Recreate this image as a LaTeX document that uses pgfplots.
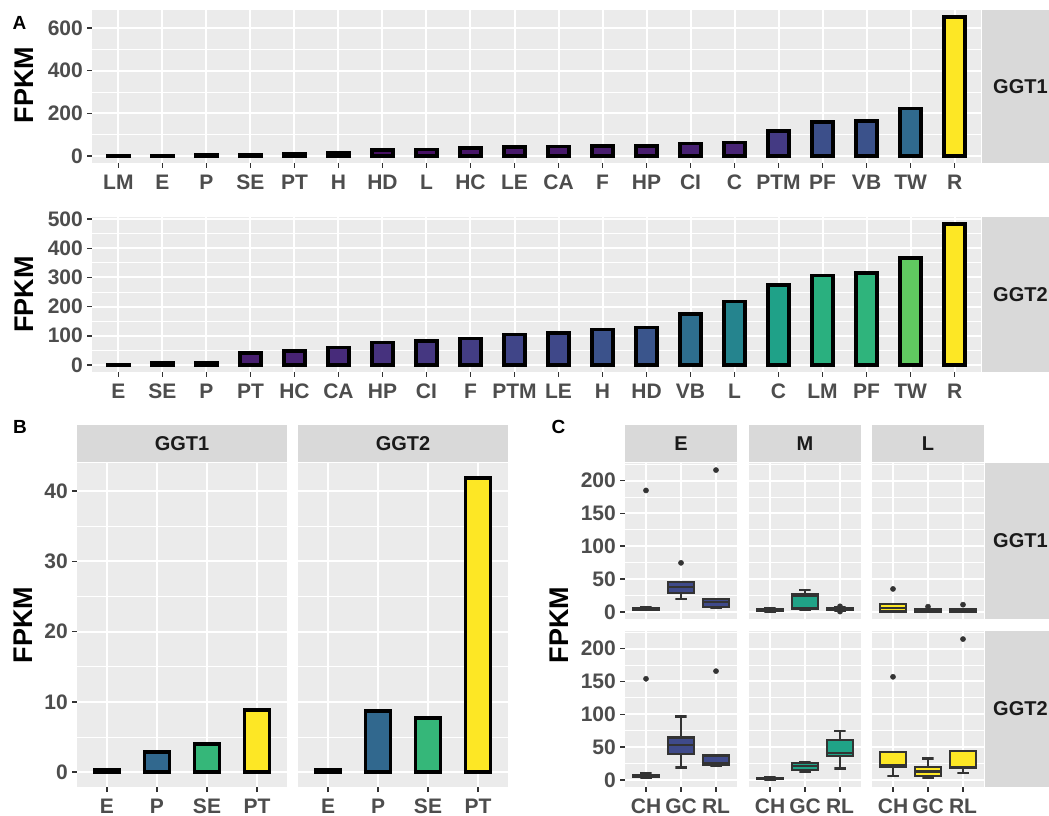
\documentclass[border=0pt]{standalone}
\usepackage{fontspec}
\setmainfont{Liberation Sans}
\usepackage{pgfplots}
\pgfplotsset{compat=1.18}
\definecolor{ggpanel}{HTML}{EBEBEB}
\definecolor{ggstrip}{HTML}{D9D9D9}
\definecolor{gg20}{HTML}{333333}
\definecolor{gg30}{HTML}{4D4D4D}
\definecolor{gg10}{HTML}{1A1A1A}
% panel A, GGT1 bar colours (viridis by value)
\definecolor{a00}{HTML}{440154}\definecolor{a01}{HTML}{440154}
\definecolor{a02}{HTML}{440256}\definecolor{a03}{HTML}{440256}
\definecolor{a04}{HTML}{450559}\definecolor{a05}{HTML}{46085C}
\definecolor{a06}{HTML}{471063}\definecolor{a07}{HTML}{471164}
\definecolor{a08}{HTML}{481668}\definecolor{a09}{HTML}{48196B}
\definecolor{a10}{HTML}{48196B}\definecolor{a11}{HTML}{481C6E}
\definecolor{a12}{HTML}{481C6E}\definecolor{a13}{HTML}{482173}
\definecolor{a14}{HTML}{482475}\definecolor{a15}{HTML}{443A83}
\definecolor{a16}{HTML}{3C4F8A}\definecolor{a17}{HTML}{3B528B}
\definecolor{a18}{HTML}{306A8E}\definecolor{a19}{HTML}{FDE725}
% panel A, GGT2
\definecolor{b00}{HTML}{440154}\definecolor{b01}{HTML}{450559}
\definecolor{b02}{HTML}{46075A}\definecolor{b03}{HTML}{481F70}
\definecolor{b04}{HTML}{482374}\definecolor{b05}{HTML}{472B7A}
\definecolor{b06}{HTML}{46327E}\definecolor{b07}{HTML}{453781}
\definecolor{b08}{HTML}{433D84}\definecolor{b09}{HTML}{404588}
\definecolor{b10}{HTML}{3F4889}\definecolor{b11}{HTML}{3B528B}
\definecolor{b12}{HTML}{3A558C}\definecolor{b13}{HTML}{2E6E8E}
\definecolor{b14}{HTML}{25848E}\definecolor{b15}{HTML}{1FA188}
\definecolor{b16}{HTML}{2AB07F}\definecolor{b17}{HTML}{2FB47C}
\definecolor{b18}{HTML}{60CA60}\definecolor{b19}{HTML}{FDE725}
% panel B
\definecolor{v1}{HTML}{440154}\definecolor{v2}{HTML}{31688E}
\definecolor{v3}{HTML}{35B779}\definecolor{v4}{HTML}{FDE725}
% panel C
\definecolor{boxE}{HTML}{3F4A8A}\definecolor{boxM}{HTML}{20A387}
\definecolor{boxL}{HTML}{FDE725}

\newcommand\tlfont{\fontsize{21}{21}\selectfont\bfseries}
\newcommand\stfont{\fontsize{20}{20}\selectfont\bfseries}
\newcommand\ylfont{\fontsize{27}{27}\selectfont\bfseries}
\newcommand\pfont{\fontsize{19}{19}\selectfont\bfseries}

\pgfplotsset{
  gg/.style={
    scale only axis,
    axis background/.style={fill=ggpanel},
    axis x line*=bottom, axis y line*=left,
    axis line style={draw=none},
    tick align=outside,
    major tick length=5pt, minor tick length=0pt,
    tick style={color=gg20, line width=1.5pt},
    xmajorgrids, ymajorgrids, yminorgrids,
    major grid style={color=white, line width=2pt},
    minor grid style={color=white, line width=1pt},
    ticklabel style={font=\tlfont, text=gg30},
    /pgf/number format/assume math mode=true,
    yticklabel style={inner sep=0pt, xshift=-4pt},
    xticklabel style={inner sep=0pt, yshift=-6pt, text height=15pt, text depth=0pt},
    minor y tick num=1,
    scaled y ticks=false,
  },
  gbar/.style={ybar, bar width=0.47, bar shift=0pt, draw=black, line width=3.6pt, fill=#1},
  bbar/.style={ybar, bar width=0.5, bar shift=0pt, draw=black, line width=3.8pt, fill=#1},
  cwh/.style={draw=gg20, line width=2.3pt, no marks},
  cbx/.style={draw=gg20, fill=#1, line width=2.3pt, no marks, line join=miter},
  cmd/.style={draw=gg20, line width=2.5pt, no marks},
  cout/.style={only marks, mark=*, mark size=2.6pt, draw=gg20, fill=gg20},
  cax/.style={gg, anchor=south west, width=112pt, height=156pt,
    xmin=0.4, xmax=3.6, ymin=-10.8, ymax=226.8,
    xtick={1,2,3}, xticklabels={CH,GC,RL}, ytick={0,50,100,150,200},
    minor ytick={25,75,125,175,225}},
}

\begin{document}
\begin{tikzpicture}
\fill[white] (0pt,0pt) rectangle (1049pt,816pt);
\path[use as bounding box] (0pt,0pt) rectangle (1049pt,816pt);

% ---------------- Panel A, GGT1 ----------------
\begin{axis}[gg, at={(92pt,653pt)}, anchor=south west, width=889pt, height=153pt,
  xmin=-0.6, xmax=19.6, ymin=-32.6, ymax=684.6,
  xtick={0,...,19},
  xticklabels={LM,E,P,SE,PT,H,HD,L,HC,LE,CA,F,HP,CI,C,PTM,PF,VB,TW,R},
  ytick={0,200,400,600}]
\addplot[gbar=a00] coordinates {(0,3)};
\addplot[gbar=a01] coordinates {(1,3)};
\addplot[gbar=a02] coordinates {(2,5)};
\addplot[gbar=a03] coordinates {(3,5)};
\addplot[gbar=a04] coordinates {(4,10)};
\addplot[gbar=a05] coordinates {(5,15)};
\addplot[gbar=a06] coordinates {(6,29)};
\addplot[gbar=a07] coordinates {(7,30)};
\addplot[gbar=a08] coordinates {(8,38)};
\addplot[gbar=a09] coordinates {(9,43)};
\addplot[gbar=a10] coordinates {(10,44)};
\addplot[gbar=a11] coordinates {(11,47)};
\addplot[gbar=a12] coordinates {(12,47)};
\addplot[gbar=a13] coordinates {(13,58)};
\addplot[gbar=a14] coordinates {(14,63)};
\addplot[gbar=a15] coordinates {(15,117)};
\addplot[gbar=a16] coordinates {(16,159)};
\addplot[gbar=a17] coordinates {(17,163)};
\addplot[gbar=a18] coordinates {(18,222)};
\addplot[gbar=a19] coordinates {(19,652)};
\end{axis}

% ---------------- Panel A, GGT2 ----------------
\begin{axis}[gg, at={(92pt,444pt)}, anchor=south west, width=889pt, height=155pt,
  xmin=-0.6, xmax=19.6, ymin=-24.2, ymax=507.2,
  xtick={0,...,19},
  xticklabels={E,SE,P,PT,HC,CA,HP,CI,F,PTM,LE,H,HD,VB,L,C,LM,PF,TW,R},
  ytick={0,100,200,300,400,500}]
\addplot[gbar=b00] coordinates {(0,2)};
\addplot[gbar=b01] coordinates {(1,8)};
\addplot[gbar=b02] coordinates {(2,9)};
\addplot[gbar=b03] coordinates {(3,41)};
\addplot[gbar=b04] coordinates {(4,47)};
\addplot[gbar=b05] coordinates {(5,60)};
\addplot[gbar=b06] coordinates {(6,77)};
\addplot[gbar=b07] coordinates {(7,83)};
\addplot[gbar=b08] coordinates {(8,91)};
\addplot[gbar=b09] coordinates {(9,105)};
\addplot[gbar=b10] coordinates {(10,109)};
\addplot[gbar=b11] coordinates {(11,122)};
\addplot[gbar=b12] coordinates {(12,128)};
\addplot[gbar=b13] coordinates {(13,174)};
\addplot[gbar=b14] coordinates {(14,217)};
\addplot[gbar=b15] coordinates {(15,274)};
\addplot[gbar=b16] coordinates {(16,307)};
\addplot[gbar=b17] coordinates {(17,315)};
\addplot[gbar=b18] coordinates {(18,367)};
\addplot[gbar=b19] coordinates {(19,483)};
\end{axis}

% ---------------- Panel B ----------------
\begin{axis}[gg, at={(77pt,29pt)}, anchor=south west, width=210pt, height=324pt,
  xmin=0.4, xmax=4.6, ymin=-2.1, ymax=44.0,
  xtick={1,2,3,4}, xticklabels={E,P,SE,PT}, ytick={0,10,20,30,40}]
\addplot[bbar=v1] coordinates {(1,0.3)};
\addplot[bbar=v2] coordinates {(2,2.9)};
\addplot[bbar=v3] coordinates {(3,4.07)};
\addplot[bbar=v4] coordinates {(4,8.9)};
\end{axis}
\begin{axis}[gg, at={(298pt,29pt)}, anchor=south west, width=210pt, height=324pt,
  xmin=0.4, xmax=4.6, ymin=-2.1, ymax=44.0,
  xtick={1,2,3,4}, xticklabels={E,P,SE,PT}, ytick={0,10,20,30,40},
  ymajorticks=false]
\addplot[bbar=v1] coordinates {(1,0.3)};
\addplot[bbar=v2] coordinates {(2,8.7)};
\addplot[bbar=v3] coordinates {(3,7.7)};
\addplot[bbar=v4] coordinates {(4,41.9)};
\end{axis}

% ---------------- Panel C, GGT1 row, stage E ----------------
\begin{axis}[cax, at={(625pt,197pt)}, xmajorticks=false]
% CH: lw 2.5, q1 3, med 4.5, q3 6, uw 7.5
\addplot[cwh] coordinates {(0.84,7.5) (1.16,7.5) (1,7.5) (1,2.5) (0.84,2.5) (1.16,2.5)};
\addplot[cbx=boxE] coordinates {(0.625,3) (1.375,3) (1.375,6) (0.625,6)} -- cycle;
\addplot[cmd] coordinates {(0.625,4.5) (1.375,4.5)};
\addplot[cout] coordinates {(1,185)};
% GC: 19.4, 28.5, 38, 46, 46
\addplot[cwh] coordinates {(1.84,46) (2.16,46) (2,46) (2,19.4) (1.84,19.4) (2.16,19.4)};
\addplot[cbx=boxE] coordinates {(1.625,28.5) (2.375,28.5) (2.375,46) (1.625,46)} -- cycle;
\addplot[cmd] coordinates {(1.625,38) (2.375,38)};
\addplot[cout] coordinates {(2,74.7)};
% RL: 5.6, 7.6, 14.8, 19.4, 19.4
\addplot[cwh] coordinates {(2.84,19.4) (3.16,19.4) (3,19.4) (3,5.6) (2.84,5.6) (3.16,5.6)};
\addplot[cbx=boxE] coordinates {(2.625,7.6) (3.375,7.6) (3.375,19.4) (2.625,19.4)} -- cycle;
\addplot[cmd] coordinates {(2.625,14.8) (3.375,14.8)};
\addplot[cout] coordinates {(3,216)};
\end{axis}

% ---------------- Panel C, GGT1 row, stage M ----------------
\begin{axis}[cax, at={(749pt,197pt)}, xmajorticks=false, ymajorticks=false]
\addplot[cwh] coordinates {(0.84,6) (1.16,6) (1,6) (1,0.5) (0.84,0.5) (1.16,0.5)};
\addplot[cbx=boxM] coordinates {(0.625,1) (1.375,1) (1.375,4) (0.625,4)} -- cycle;
\addplot[cmd] coordinates {(0.625,2.5) (1.375,2.5)};
\addplot[cwh] coordinates {(1.84,33.5) (2.16,33.5) (2,33.5) (2,3.5) (1.84,3.5) (2.16,3.5)};
\addplot[cbx=boxM] coordinates {(1.625,5) (2.375,5) (2.375,27.4) (1.625,27.4)} -- cycle;
\addplot[cmd] coordinates {(1.625,24) (2.375,24)};
\addplot[cwh] coordinates {(2.84,7) (3.16,7) (3,7) (3,2) (2.84,2) (3.16,2)};
\addplot[cbx=boxM] coordinates {(2.625,3) (3.375,3) (3.375,5.5) (2.625,5.5)} -- cycle;
\addplot[cmd] coordinates {(2.625,4) (3.375,4)};
\addplot[cout] coordinates {(3,8.5) (3,0.5)};
\end{axis}

% ---------------- Panel C, GGT1 row, stage L ----------------
\begin{axis}[cax, at={(872pt,197pt)}, xmajorticks=false, ymajorticks=false]
\addplot[cwh] coordinates {(0.84,12.2) (1.16,12.2) (1,12.2) (1,0.5) (0.84,0.5) (1.16,0.5)};
\addplot[cbx=boxL] coordinates {(0.625,0.5) (1.375,0.5) (1.375,12.2) (0.625,12.2)} -- cycle;
\addplot[cmd] coordinates {(0.625,5.6) (1.375,5.6)};
\addplot[cout] coordinates {(1,35)};
\addplot[cwh] coordinates {(1.84,4) (2.16,4) (2,4) (2,0) (1.84,0) (2.16,0)};
\addplot[cbx=boxL] coordinates {(1.625,0) (2.375,0) (2.375,4) (1.625,4)} -- cycle;
\addplot[cmd] coordinates {(1.625,1.5) (2.375,1.5)};
\addplot[cout] coordinates {(2,8)};
\addplot[cwh] coordinates {(2.84,4.5) (3.16,4.5) (3,4.5) (3,0.5) (2.84,0.5) (3.16,0.5)};
\addplot[cbx=boxL] coordinates {(2.625,0.5) (3.375,0.5) (3.375,4.5) (2.625,4.5)} -- cycle;
\addplot[cmd] coordinates {(2.625,2) (3.375,2)};
\addplot[cout] coordinates {(3,11)};
\end{axis}

% ---------------- Panel C, GGT2 row, stage E ----------------
\begin{axis}[cax, at={(625pt,29pt)}]
\addplot[cwh] coordinates {(0.84,10) (1.16,10) (1,10) (1,3) (0.84,3) (1.16,3)};
\addplot[cbx=boxE] coordinates {(0.625,4) (1.375,4) (1.375,8) (0.625,8)} -- cycle;
\addplot[cmd] coordinates {(0.625,6) (1.375,6)};
\addplot[cout] coordinates {(1,154)};
\addplot[cwh] coordinates {(1.84,96.6) (2.16,96.6) (2,96.6) (2,19) (1.84,19) (2.16,19)};
\addplot[cbx=boxE] coordinates {(1.625,39.8) (2.375,39.8) (2.375,64.7) (1.625,64.7)} -- cycle;
\addplot[cmd] coordinates {(1.625,53) (2.375,53)};
\addplot[cwh] coordinates {(2.84,37.3) (3.16,37.3) (3,37.3) (3,21.5) (2.84,21.5) (3.16,21.5)};
\addplot[cbx=boxE] coordinates {(2.625,23.4) (3.375,23.4) (3.375,37.3) (2.625,37.3)} -- cycle;
\addplot[cmd] coordinates {(2.625,25) (3.375,25)};
\addplot[cout] coordinates {(3,165.7)};
\end{axis}

% ---------------- Panel C, GGT2 row, stage M ----------------
\begin{axis}[cax, at={(749pt,29pt)}, ymajorticks=false]
\addplot[cwh] coordinates {(0.84,4) (1.16,4) (1,4) (1,0.5) (0.84,0.5) (1.16,0.5)};
\addplot[cbx=boxM] coordinates {(0.625,1) (1.375,1) (1.375,3) (0.625,3)} -- cycle;
\addplot[cmd] coordinates {(0.625,2) (1.375,2)};
\addplot[cwh] coordinates {(1.84,27.5) (2.16,27.5) (2,27.5) (2,13) (1.84,13) (2.16,13)};
\addplot[cbx=boxM] coordinates {(1.625,15) (2.375,15) (2.375,26) (1.625,26)} -- cycle;
\addplot[cmd] coordinates {(1.625,21) (2.375,21)};
\addplot[cwh] coordinates {(2.84,74.6) (3.16,74.6) (3,74.6) (3,17.5) (2.84,17.5) (3.16,17.5)};
\addplot[cbx=boxM] coordinates {(2.625,36.9) (3.375,36.9) (3.375,61.2) (2.625,61.2)} -- cycle;
\addplot[cmd] coordinates {(2.625,40.9) (3.375,40.9)};
\end{axis}

% ---------------- Panel C, GGT2 row, stage L ----------------
\begin{axis}[cax, at={(872pt,29pt)}, ymajorticks=false]
\addplot[cwh] coordinates {(0.84,42.4) (1.16,42.4) (1,42.4) (1,6) (0.84,6) (1.16,6)};
\addplot[cbx=boxL] coordinates {(0.625,20) (1.375,20) (1.375,42.4) (0.625,42.4)} -- cycle;
\addplot[cmd] coordinates {(0.625,22) (1.375,22)};
\addplot[cout] coordinates {(1,157)};
\addplot[cwh] coordinates {(1.84,32.4) (2.16,32.4) (2,32.4) (2,2.5) (1.84,2.5) (2.16,2.5)};
\addplot[cbx=boxL] coordinates {(1.625,5.5) (2.375,5.5) (2.375,19.4) (1.625,19.4)} -- cycle;
\addplot[cmd] coordinates {(1.625,13) (2.375,13)};
\addplot[cwh] coordinates {(2.84,43.9) (3.16,43.9) (3,43.9) (3,11) (2.84,11) (3.16,11)};
\addplot[cbx=boxL] coordinates {(2.625,18.5) (3.375,18.5) (3.375,43.9) (2.625,43.9)} -- cycle;
\addplot[cmd] coordinates {(2.625,20) (3.375,20)};
\addplot[cout] coordinates {(3,214.5)};
\end{axis}

% ---------------- strips ----------------
\fill[ggstrip] (982pt,653pt) rectangle (1052pt,806pt);
\fill[ggstrip] (982pt,444pt) rectangle (1052pt,599pt);
\node[anchor=west, font=\stfont, text=gg10, inner sep=0pt] at (993pt,729.5pt) {GGT1};
\node[anchor=west, font=\stfont, text=gg10, inner sep=0pt] at (993pt,521.5pt) {GGT2};

\fill[ggstrip] (77pt,354pt) rectangle (287pt,391pt);
\fill[ggstrip] (298pt,354pt) rectangle (508pt,391pt);
\node[font=\stfont, text=gg10] at (182pt,372.5pt) {GGT1};
\node[font=\stfont, text=gg10] at (403pt,372.5pt) {GGT2};

\fill[ggstrip] (625pt,354pt) rectangle (737pt,391pt);
\fill[ggstrip] (749pt,354pt) rectangle (861pt,391pt);
\fill[ggstrip] (872pt,354pt) rectangle (984pt,391pt);
\node[font=\stfont, text=gg10] at (681pt,372.5pt) {E};
\node[font=\stfont, text=gg10] at (805pt,372.5pt) {M};
\node[font=\stfont, text=gg10] at (928pt,372.5pt) {L};
\fill[ggstrip] (985pt,197pt) rectangle (1052pt,353pt);
\fill[ggstrip] (985pt,29pt) rectangle (1052pt,185pt);
\node[anchor=west, font=\stfont, text=gg10, inner sep=0pt] at (993pt,275pt) {GGT1};
\node[anchor=west, font=\stfont, text=gg10, inner sep=0pt] at (993pt,107pt) {GGT2};

% ---------------- axis titles and panel letters ----------------
\node[rotate=90, font=\ylfont] at (24pt,731pt) {FPKM};
\node[rotate=90, font=\ylfont] at (24pt,521.5pt) {FPKM};
\node[rotate=90, font=\ylfont] at (23pt,191pt) {FPKM};
\node[rotate=90, font=\ylfont] at (559pt,191pt) {FPKM};
\node[font=\pfont] at (19.5pt,793pt) {A};
\node[font=\pfont] at (20pt,389.5pt) {B};
\node[font=\pfont] at (558.5pt,389.5pt) {C};
\end{tikzpicture}
\end{document}
